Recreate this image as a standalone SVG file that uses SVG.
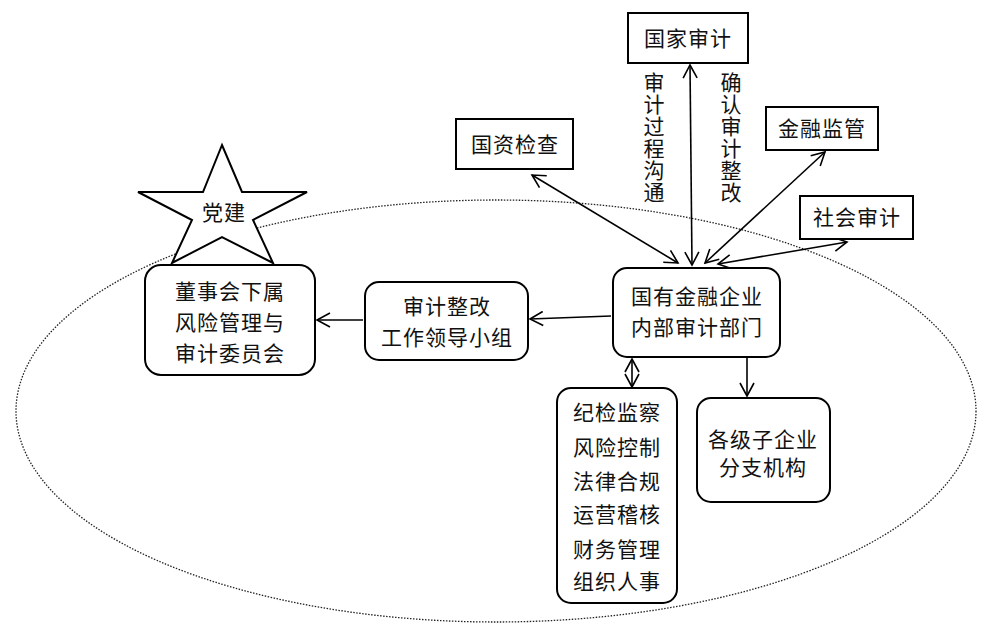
<svg xmlns="http://www.w3.org/2000/svg" width="981" height="627" viewBox="0 0 981 627">
<style>
.box{fill:#fff;stroke:#000;stroke-width:2}
.t{font-family:"Noto Sans CJK SC","Noto Sans",sans-serif;font-size:21px;fill:#111;text-anchor:middle;letter-spacing:1px}
.v{font-family:"Noto Sans CJK SC","Noto Sans",sans-serif;font-size:21px;fill:#111;writing-mode:vertical-rl;text-anchor:start;letter-spacing:1px}
.c{fill:none;stroke:#000;stroke-width:1.6}
</style>
<defs>
<marker id="ah" markerUnits="userSpaceOnUse" markerWidth="16" markerHeight="16" viewBox="0 0 16 16" refX="14" refY="8" orient="auto-start-reverse">
<path d="M1,1 L14,8 L1,15" fill="none" stroke="#000" stroke-width="1.6"/>
</marker>
</defs>
<rect width="981" height="627" fill="#fff"/>
<ellipse cx="496" cy="411" rx="480" ry="211" fill="none" stroke="#222" stroke-width="1.3" stroke-dasharray="1.5 1.5"/>
<g id="connectors">
<line class="c" x1="690" y1="65" x2="692" y2="265" marker-start="url(#ah)" marker-end="url(#ah)"/>
<line class="c" x1="532" y1="175" x2="678" y2="263" marker-start="url(#ah)" marker-end="url(#ah)"/>
<line class="c" x1="825" y1="152" x2="705" y2="263" marker-start="url(#ah)" marker-end="url(#ah)"/>
<line class="c" x1="847" y1="242" x2="718" y2="264" marker-start="url(#ah)" marker-end="url(#ah)"/>
<line class="c" x1="611" y1="316" x2="530" y2="319" marker-end="url(#ah)"/>
<line class="c" x1="363" y1="320" x2="317" y2="320" marker-end="url(#ah)"/>
<line class="c" x1="632" y1="359" x2="632" y2="387" marker-start="url(#ah)" marker-end="url(#ah)"/>
<line class="c" x1="747" y1="357" x2="747" y2="396" marker-end="url(#ah)"/>
</g>
<g id="label-left">
<text class="v" x="654" y="72">审计过程沟通</text>
</g>
<g id="label-right">
<text class="v" x="731" y="72">确认审计整改</text>
</g>
<g id="guojia">
<rect class="box" x="628" y="13" width="120" height="50"/>
<text class="t" x="688" y="46">国家审计</text>
</g>
<g id="guozi">
<rect class="box" x="456" y="119" width="117" height="50"/>
<text class="t" x="515" y="152">国资检查</text>
</g>
<g id="jinrong">
<rect class="box" x="766" y="107" width="112" height="43"/>
<text class="t" x="822" y="136">金融监管</text>
</g>
<g id="shehui">
<rect class="box" x="800" y="196" width="113" height="43"/>
<text class="t" x="857" y="225">社会审计</text>
</g>
<g id="dangjian">
<polygon class="box" points="222,145 242,192 307,192 253,220 273,263 222,237 172,263 192,220 138,192 203,192"/>
<text class="t" x="224" y="220">党建</text>
</g>
<g id="dongshihui">
<rect class="box" x="145" y="265" width="170" height="110" rx="16"/>
<text class="t" x="230" y="299">董事会下属</text>
<text class="t" x="230" y="330">风险管理与</text>
<text class="t" x="230" y="361">审计委员会</text>
</g>
<g id="zhenggai">
<rect class="box" x="365" y="282" width="163" height="78" rx="14"/>
<text class="t" x="447" y="314">审计整改</text>
<text class="t" x="447" y="345">工作领导小组</text>
</g>
<g id="neibu">
<rect class="box" x="613" y="268" width="167" height="89" rx="14"/>
<text class="t" x="697" y="304">国有金融企业</text>
<text class="t" x="697" y="335">内部审计部门</text>
</g>
<g id="jijian">
<rect class="box" x="557" y="388" width="120" height="215" rx="14"/>
<text class="t" x="617" y="420">纪检监察</text>
<text class="t" x="617" y="455">风险控制</text>
<text class="t" x="617" y="489">法律合规</text>
<text class="t" x="617" y="522">运营稽核</text>
<text class="t" x="617" y="557">财务管理</text>
<text class="t" x="617" y="589">组织人事</text>
</g>
<g id="geji">
<rect class="box" x="697" y="398" width="133" height="104" rx="14"/>
<text class="t" x="763" y="447">各级子企业</text>
<text class="t" x="763" y="475">分支机构</text>
</g>
</svg>
